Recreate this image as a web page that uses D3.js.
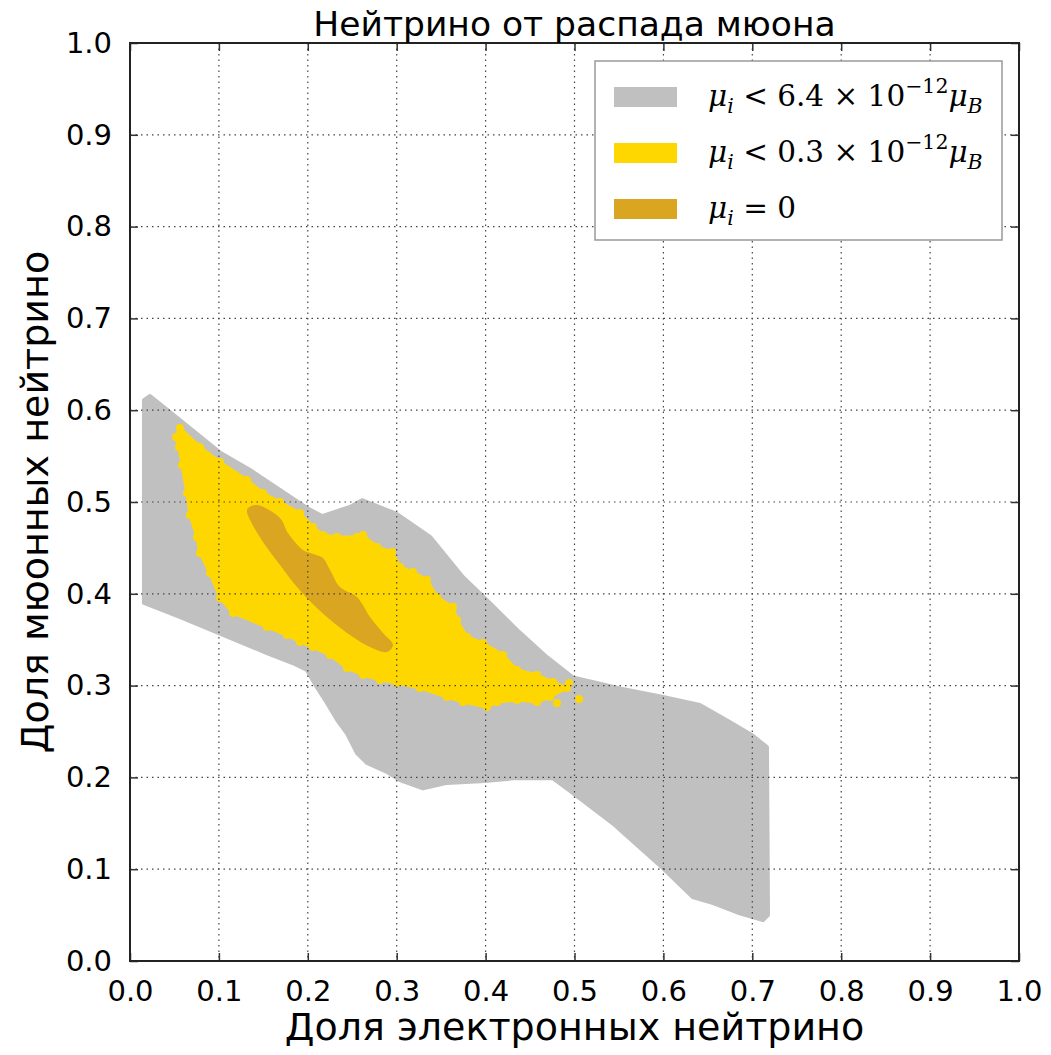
<!DOCTYPE html>
<html>
<head>
<meta charset="utf-8">
<script src="https://cdn.jsdelivr.net/npm/d3@7"></script>
<style>
	body { margin: 0; background: white; }
</style>
</head>
<body>
<div id="c"></div>
<script>
// regions, as [electron fraction, muon fraction]
var gray_region = [[0.0157,0.611],[0.0225,0.6155],[0.045,0.598],[0.101,0.554],[0.135,0.535],[0.199,0.4935],
	[0.216,0.4847],[0.2475,0.4946],[0.261,0.502],[0.300,0.487],[0.3375,0.462],[0.3746,0.418],[0.4016,0.393],
	[0.4353,0.3606],[0.469,0.331],[0.498,0.309],[0.525,0.303],[0.551,0.297],[0.5996,0.2876],[0.641,0.279],
	[0.675,0.260],[0.6997,0.246],[0.7165,0.233],[0.7177,0.050],[0.712,0.0447],[0.686,0.052],[0.656,0.063],
	[0.633,0.0697],[0.5996,0.101],[0.543,0.150],[0.498,0.183],[0.476,0.199],[0.431,0.199],[0.399,0.196],
	[0.3566,0.194],[0.3296,0.188],[0.3037,0.197],[0.289,0.206],[0.2666,0.2157],[0.2553,0.2266],[0.244,0.248],
	[0.233,0.2625],[0.2216,0.281],[0.210,0.2985],[0.199,0.317],[0.183,0.3246],[0.154,0.3355],[0.100,0.357],
	[0.056,0.3747],[0.0157,0.390]];

var yellow_region = [[0.0517,0.5708],[0.0562,0.5806],[0.0787,0.560],[0.1012,0.5436],[0.1316,0.524],[0.1496,0.5098],
	[0.1687,0.500],[0.1912,0.488],[0.2058,0.4728],[0.2171,0.464],[0.2328,0.4619],[0.2553,0.4619],[0.2621,0.464],
	[0.2778,0.451],[0.2947,0.4455],[0.3037,0.4292],[0.3183,0.4237],[0.3341,0.415],[0.3453,0.3965],[0.3633,0.3856],
	[0.3678,0.3715],[0.3791,0.353],[0.3971,0.3464],[0.4196,0.3333],[0.4353,0.317],[0.4578,0.3115],[0.4758,0.3039],
	[0.4916,0.2974],[0.4724,0.2876],[0.4578,0.2821],[0.4353,0.2843],[0.4128,0.2821],[0.4016,0.2767],[0.3746,0.2821],
	[0.3566,0.2876],[0.3262,0.2974],[0.3003,0.3028],[0.2812,0.3061],[0.2621,0.3115],[0.2441,0.3192],[0.225,0.3333],
	[0.2058,0.342],[0.1912,0.3475],[0.1766,0.3551],[0.1541,0.3638],[0.1159,0.3791],[0.1012,0.3954],[0.09,0.4227],
	[0.0787,0.4444],[0.0754,0.4619],[0.0675,0.4858],[0.0641,0.5098],[0.0585,0.5403],[0.0551,0.5599]];

var yellow_dots = [[0.4938,0.3028],[0.4803,0.281],[0.5051,0.2854]];

var zero_region = [[0.1327,0.4935],[0.1429,0.4967],[0.1687,0.4826],[0.1777,0.4662],[0.1946,0.4477],[0.2058,0.4434],
	[0.2171,0.439],[0.225,0.4259],[0.2362,0.4074],[0.2553,0.3965],[0.27,0.3747],[0.2846,0.3573],[0.2958,0.3442],
	[0.2891,0.3366],[0.27,0.342],[0.2396,0.3606],[0.2103,0.3845],[0.1879,0.4074],[0.1687,0.4314],[0.1496,0.4564],
	[0.135,0.4804],[0.1316,0.4891]];

var tick_values = [0, 0.1, 0.2, 0.3, 0.4, 0.5, 0.6, 0.7, 0.8, 0.9, 1.0];

var title_text = "Нейтрино от распада мюона";
var x_label = "Доля электронных нейтрино";
var y_label = "Доля мюонных нейтрино";

var legend_colors = ["#c0c0c0", "#ffd700", "#daa520"];
// each label split into pieces: text, italic, sub/sup
var legend_labels = [
	[["μ", 1, 0], ["i", 1, -1], [" < 6.4 × 10", 0, 0], ["−12", 0, 1], ["μ", 1, 0], ["B", 1, -1]],
	[["μ", 1, 0], ["i", 1, -1], [" < 0.3 × 10", 0, 0], ["−12", 0, 1], ["μ", 1, 0], ["B", 1, -1]],
	[["μ", 1, 0], ["i", 1, -1], [" = 0", 0, 0]]
];

var width = 1051;
var height = 1055;

var p_left = 130, p_right = 1019, p_top = 43, p_bottom = 961;

var svg = d3.select("#c").append("svg")
	.attr("width", width)
	.attr("height", height);

var x_scale = d3.scaleLinear().domain([0, 1]).range([p_left, p_right]);
var y_scale = d3.scaleLinear().domain([0, 1]).range([p_bottom, p_top]);

var region_line = d3.line()
	.x(function(d) { return x_scale(d[0]) })
	.y(function(d) { return y_scale(d[1]) })
	.curve(d3.curveLinearClosed);

var smooth_line = d3.line()
	.x(function(d) { return x_scale(d[0]) })
	.y(function(d) { return y_scale(d[1]) })
	.curve(d3.curveCatmullRomClosed);

// filled regions
svg.append("path")
	.attr("d", region_line(gray_region))
	.attr("fill", legend_colors[0])
	.attr("stroke", legend_colors[0])
	.attr("stroke-width", 4)
	.attr("stroke-linejoin", "round");

svg.append("path")
	.attr("d", region_line(yellow_region))
	.attr("fill", legend_colors[1])
	.attr("stroke", legend_colors[1])
	.attr("stroke-width", 3)
	.attr("stroke-linejoin", "round");

// the edge of the yellow cloud is made of single points
svg.selectAll(".yedge")
	.data(yellow_region.concat(yellow_dots))
	.enter()
	.append("circle")
	.attr("class", "yedge")
	.attr("cx", function(d) { return x_scale(d[0]) })
	.attr("cy", function(d) { return y_scale(d[1]) })
	.attr("r", 4)
	.attr("fill", legend_colors[1]);

svg.append("path")
	.attr("d", smooth_line(zero_region))
	.attr("fill", legend_colors[2]);

// dotted grid (drawn over the fills, like the original)
var grid = svg.append("g").attr("class", "grid");

grid.selectAll(".gx")
	.data(tick_values.slice(1, -1))
	.enter()
	.append("line")
	.attr("class", "gx")
	.attr("x1", function(d) { return x_scale(d) })
	.attr("x2", function(d) { return x_scale(d) })
	.attr("y1", p_top)
	.attr("y2", p_bottom);

grid.selectAll(".gy")
	.data(tick_values.slice(1, -1))
	.enter()
	.append("line")
	.attr("class", "gy")
	.attr("y1", function(d) { return y_scale(d) })
	.attr("y2", function(d) { return y_scale(d) })
	.attr("x1", p_left)
	.attr("x2", p_right);

grid.selectAll("line")
	.attr("stroke", "#444")
	.attr("stroke-width", 1.2)
	.attr("stroke-dasharray", "1.5,4");

// axes with inside ticks on all sides
function style_axis(g) {
	g.select(".domain").remove();
	g.selectAll(".tick line").attr("stroke", "#333").attr("stroke-width", 1.5);
	g.selectAll(".tick text")
		.attr("font-family", "DejaVu Sans")
		.attr("font-size", 29)
		.attr("fill", "#000");
}

svg.append("g")
	.attr("transform", "translate(0," + p_bottom + ")")
	.call(d3.axisBottom(x_scale).tickValues(tick_values).tickFormat(d3.format(".1f")).tickSizeInner(-8).tickSizeOuter(0).tickPadding(19))
	.call(style_axis);

svg.append("g")
	.attr("transform", "translate(" + p_left + ",0)")
	.call(d3.axisLeft(y_scale).tickValues(tick_values).tickFormat(d3.format(".1f")).tickSizeInner(-8).tickSizeOuter(0).tickPadding(18))
	.call(style_axis);

svg.append("g")
	.attr("transform", "translate(0," + p_top + ")")
	.call(d3.axisTop(x_scale).tickValues(tick_values).tickFormat("").tickSizeInner(-8).tickSizeOuter(0))
	.call(style_axis);

svg.append("g")
	.attr("transform", "translate(" + p_right + ",0)")
	.call(d3.axisRight(y_scale).tickValues(tick_values).tickFormat("").tickSizeInner(-8).tickSizeOuter(0))
	.call(style_axis);

svg.append("rect")
	.attr("x", p_left)
	.attr("y", p_top)
	.attr("width", p_right - p_left)
	.attr("height", p_bottom - p_top)
	.attr("fill", "none")
	.attr("stroke", "#222")
	.attr("stroke-width", 2);

// titles
svg.append("text")
	.attr("x", (p_left + p_right) / 2)
	.attr("y", 36)
	.attr("text-anchor", "middle")
	.attr("font-family", "DejaVu Sans")
	.attr("font-size", 34.5)
	.text(title_text);

svg.append("text")
	.attr("x", (p_left + p_right) / 2)
	.attr("y", 1040)
	.attr("text-anchor", "middle")
	.attr("font-family", "DejaVu Sans")
	.attr("font-size", 38)
	.text(x_label);

svg.append("text")
	.attr("transform", "translate(48," + ((p_top + p_bottom) / 2) + ") rotate(-90)")
	.attr("text-anchor", "middle")
	.attr("font-family", "DejaVu Sans")
	.attr("font-size", 38)
	.text(y_label);

// legend
var legend = svg.append("g").attr("class", "legend");

legend.append("rect")
	.attr("x", 595)
	.attr("y", 61)
	.attr("width", 407)
	.attr("height", 179)
	.attr("fill", "white")
	.attr("stroke", "#999")
	.attr("stroke-width", 1.5);

var leg_rows = legend.selectAll(".leg-row")
	.data(legend_labels)
	.enter()
	.append("g")
	.attr("class", "leg-row")
	.attr("transform", function(d, i) { return "translate(0," + (i * 56) + ")" });

leg_rows.append("rect")
	.attr("x", 614)
	.attr("y", 87)
	.attr("width", 63)
	.attr("height", 20)
	.attr("fill", function(d, i) { return legend_colors[i] });

leg_rows.append("text")
	.attr("x", 708)
	.attr("y", 106)
	.attr("font-family", "DejaVu Serif")
	.attr("font-size", 29.5)
	.each(function(d) {
		var t = d3.select(this);
		var shift = 0;
		d.forEach(function(p) {
			var want = p[2] < 0 ? 7 : (p[2] > 0 ? -13 : 0);
			t.append("tspan")
				.attr("dy", want - shift)
				.attr("font-style", p[1] ? "italic" : "normal")
				.attr("font-size", p[2] ? 20.5 : 29.5)
				.text(p[0]);
			shift = want;
		});
	});
</script>
</body>
</html>
